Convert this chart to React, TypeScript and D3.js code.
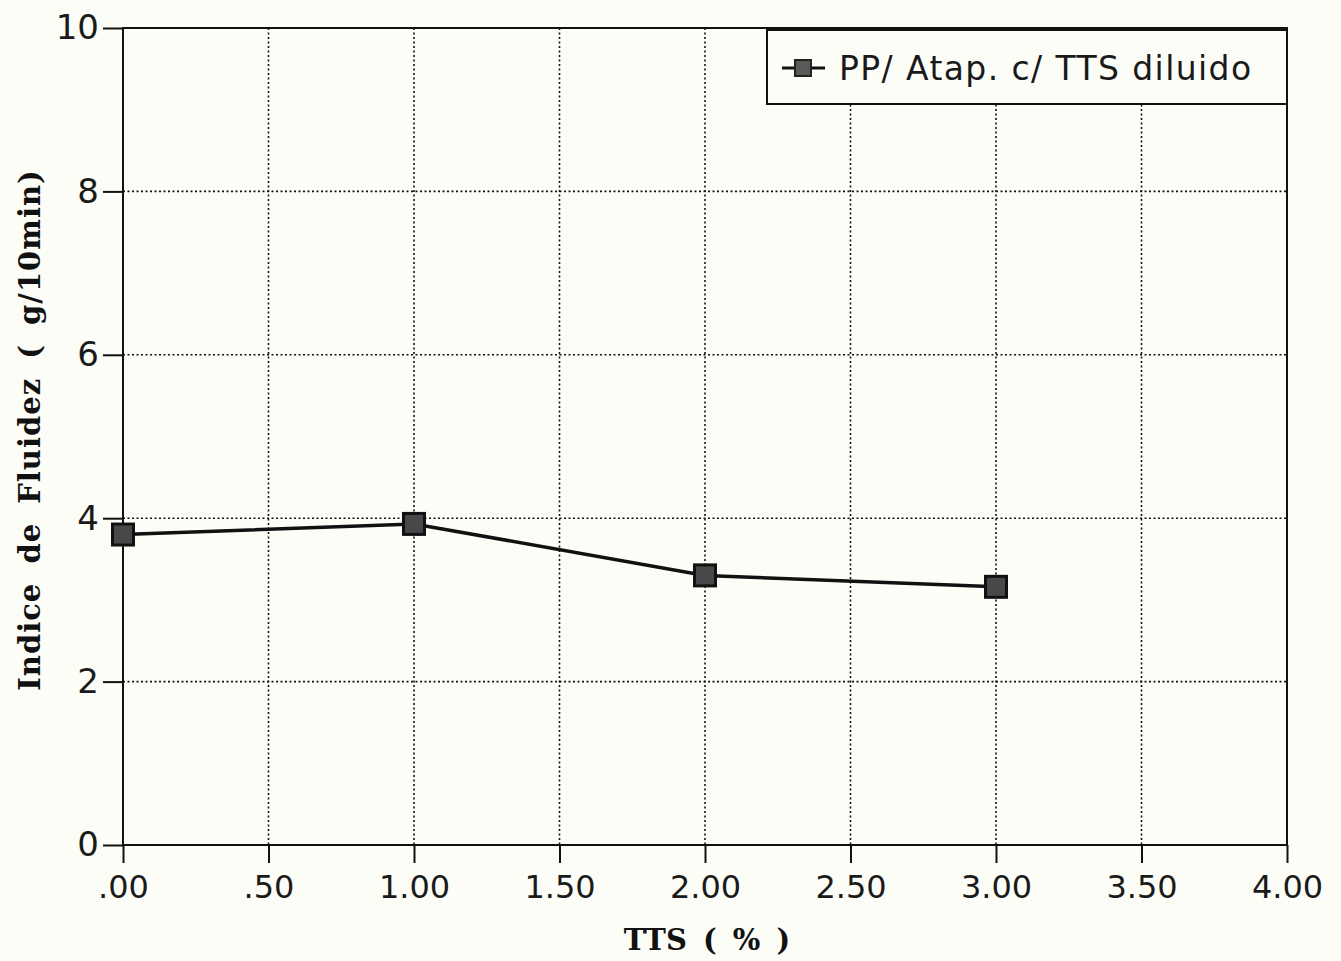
import React, { useEffect, useRef } from "react";
import * as d3 from "d3";

const tts = [0, 1, 2, 3];
const indice = [3.8, 3.93, 3.3, 3.16];
const xTicks = [0, 0.5, 1, 1.5, 2, 2.5, 3, 3.5, 4];
const xTickLabels = [".00", ".50", "1.00", "1.50", "2.00", "2.50", "3.00", "3.50", "4.00"];
const yTicks = [0, 2, 4, 6, 8, 10];
const seriesName = "PP/ Atap. c/ TTS diluido";

const W = 1341;
const H = 961;
const margin = { left: 123, right: 54, top: 28, bottom: 116 };

const App = () => {
  const ref = useRef<SVGSVGElement>(null);

  useEffect(() => {
    const svg = d3.select(ref.current);
    svg.selectAll("*").remove();

    const x = d3.scaleLinear().domain([0, 4]).range([margin.left, W - margin.right]);
    const y = d3.scaleLinear().domain([0, 10]).range([H - margin.bottom, margin.top]);
    const sans = "'DejaVu Sans', sans-serif";
    const serif = "'DejaVu Serif', serif";

    svg.append("rect").attr("width", W).attr("height", H).attr("fill", "#fdfdf8");

    // grid
    const grid = svg.append("g").attr("stroke", "#111").attr("stroke-width", 1.6).attr("stroke-dasharray", "2,2.5");
    grid.selectAll("line.vx")
      .data(xTicks.slice(1, -1))
      .enter()
      .append("line")
      .attr("x1", (d) => x(d))
      .attr("x2", (d) => x(d))
      .attr("y1", y(10))
      .attr("y2", y(0));
    grid.selectAll("line.hy")
      .data(yTicks.slice(1, -1))
      .enter()
      .append("line")
      .attr("x1", x(0))
      .attr("x2", x(4))
      .attr("y1", (d) => y(d))
      .attr("y2", (d) => y(d));

    // frame
    svg.append("rect")
      .attr("x", x(0))
      .attr("y", y(10))
      .attr("width", x(4) - x(0))
      .attr("height", y(0) - y(10))
      .attr("fill", "none")
      .attr("stroke", "#111")
      .attr("stroke-width", 2);

    // y axis
    const yAxis = d3.axisLeft(y).tickValues(yTicks).tickSize(20).tickPadding(4).tickFormat((d) => String(d));
    const gy = svg.append("g").attr("transform", `translate(${x(0)},0)`).call(yAxis);
    gy.select(".domain").remove();
    gy.selectAll("line").attr("stroke", "#111").attr("stroke-width", 2);
    gy.selectAll("text")
      .attr("font-family", sans)
      .attr("font-size", 34)
      .attr("fill", "#1a1a1a");

    // x axis
    const xAxis = d3.axisBottom(x).tickValues(xTicks).tickSize(18).tickPadding(12).tickFormat((d, i) => xTickLabels[i]);
    const gx = svg.append("g").attr("transform", `translate(0,${y(0)})`).call(xAxis);
    gx.select(".domain").remove();
    gx.selectAll("line").attr("stroke", "#111").attr("stroke-width", 2);
    gx.selectAll("text")
      .attr("font-family", sans)
      .attr("font-size", 32)
      .attr("fill", "#1a1a1a");

    // axis titles
    svg.append("text")
      .attr("x", x(2) + 2)
      .attr("y", 950)
      .attr("text-anchor", "middle")
      .attr("font-family", serif)
      .attr("font-weight", "bold")
      .attr("font-size", 29)
      .attr("word-spacing", 6)
      .attr("fill", "#111")
      .text("TTS ( % )");
    svg.append("text")
      .attr("transform", `translate(40,430) rotate(-90)`)
      .attr("text-anchor", "middle")
      .attr("font-family", serif)
      .attr("font-weight", "bold")
      .attr("font-size", 29)
      .attr("word-spacing", 8)
      .attr("letter-spacing", 1)
      .attr("fill", "#111")
      .text("Indice de Fluidez ( g/10min)");

    // line
    const pts = tts.map((t, i) => [t, indice[i]] as [number, number]);
    const line = d3.line<[number, number]>().x((d) => x(d[0])).y((d) => y(d[1]));
    svg.append("path")
      .attr("d", line(pts))
      .attr("fill", "none")
      .attr("stroke", "#111")
      .attr("stroke-width", 3.5);

    const ms = 21;
    svg.selectAll("rect.mk")
      .data(pts)
      .enter()
      .append("rect")
      .attr("x", (d) => x(d[0]) - ms / 2)
      .attr("y", (d) => y(d[1]) - ms / 2)
      .attr("width", ms)
      .attr("height", ms)
      .attr("fill", "#484848")
      .attr("stroke", "#111")
      .attr("stroke-width", 3);

    // legend
    const lx = 767;
    const ly = y(10) + 2;
    const lg = svg.append("g");
    lg.append("rect")
      .attr("x", lx)
      .attr("y", ly)
      .attr("width", x(4) - lx)
      .attr("height", 74)
      .attr("fill", "#fdfdf8")
      .attr("stroke", "#111")
      .attr("stroke-width", 2);
    lg.append("line")
      .attr("x1", lx + 15)
      .attr("x2", lx + 58)
      .attr("y1", ly + 38)
      .attr("y2", ly + 38)
      .attr("stroke", "#111")
      .attr("stroke-width", 3);
    lg.append("rect")
      .attr("x", lx + 36 - 8)
      .attr("y", ly + 38 - 8)
      .attr("width", 16)
      .attr("height", 16)
      .attr("fill", "#5a5a5a")
      .attr("stroke", "#222")
      .attr("stroke-width", 2);
    lg.append("text")
      .attr("x", lx + 72)
      .attr("y", ly + 50)
      .attr("font-family", sans)
      .attr("font-size", 33)
      .attr("letter-spacing", 1.4)
      .attr("fill", "#1a1a1a")
      .text(seriesName);
  }, []);

  return (
    <svg
      ref={ref}
      width={W}
      height={H}
      style={{ display: "block", position: "absolute", left: 0, top: 0 }}
    />
  );
};

export default App;
